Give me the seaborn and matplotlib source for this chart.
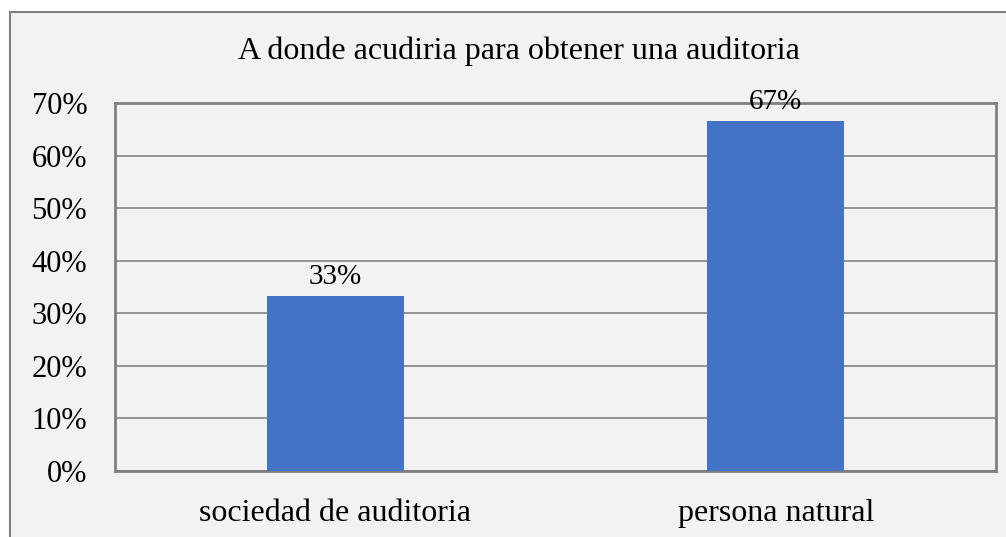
import pandas as pd
import numpy as np
import matplotlib.pyplot as plt
import seaborn as sns
from matplotlib.patches import Rectangle

# datos
categorias = ['sociedad de auditoria', 'persona natural']
porcentajes = [33.33, 66.67]
etiquetas = ['33%', '67%']
ticks_y = [0, 10, 20, 30, 40, 50, 60, 70]

df = pd.DataFrame({'categoria': categorias, 'pct': porcentajes})

sns.set_style('white')
plt.rcParams['font.family'] = ['Liberation Serif', 'DejaVu Serif']
plt.rcParams['text.color'] = 'black'
plt.rcParams['xtick.color'] = 'black'
plt.rcParams['ytick.color'] = 'black'

fig = plt.figure(figsize=(10.06, 5.37), dpi=100)
fig.patch.set_facecolor('white')

# marco del grafico (fondo gris)
fondo = Rectangle((10 / 1006, -0.1), 1.2, 1 - 12 / 537 + 0.1, transform=fig.transFigure,
                  facecolor='#f2f2f2', edgecolor='#7f7f7f', linewidth=1.5, zorder=-5)
fig.patches.append(fondo)

ax = fig.add_axes([115 / 1006, 1 - 471 / 537, (996 - 115) / 1006, (471 - 103) / 537])
ax.set_facecolor('#f2f2f2')

sns.barplot(data=df, x='categoria', y='pct', color='#4472c4', saturation=1,
            width=0.31, linewidth=0, ax=ax, zorder=3)

ax.bar_label(ax.containers[0], labels=etiquetas, fontsize=21, padding=4, color='black')

ax.set_ylim(0, 70)
ax.set_yticks(ticks_y)
ax.set_yticklabels([f'{t}%' for t in ticks_y], fontsize=22)
ax.tick_params(axis='x', labelsize=23, length=0, pad=20)
ax.tick_params(axis='y', length=0, pad=20)
ax.set_xlabel('')
ax.set_ylabel('')

ax.yaxis.grid(True, color='#8c8c8c', linewidth=1.3, zorder=1)
ax.set_axisbelow(True)
for s in ax.spines.values():
    s.set_visible(True)
    s.set_color('#7f7f7f')
    s.set_linewidth(2)

fig.text(519 / 1006, 1 - 51 / 537, 'A donde acudiria para obtener una auditoria',
         ha='center', va='center', fontsize=23, color='black')

fig.savefig('out.png', dpi=100)
